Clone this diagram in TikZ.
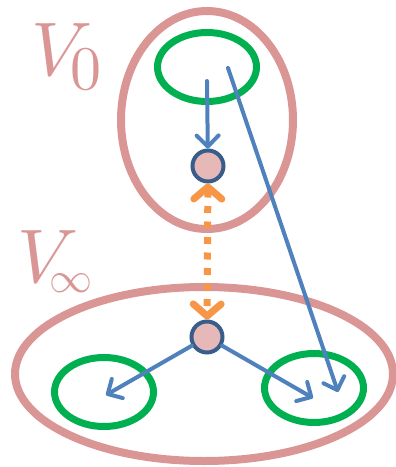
\documentclass[tikz,border=0pt]{standalone}
\usepackage{graphicx}
\usetikzlibrary{arrows.meta,shapes.geometric}
\definecolor{setpink}{HTML}{D99694}
\definecolor{setgreen}{HTML}{00B050}
\definecolor{arrblue}{HTML}{4F81BD}
\definecolor{arrorange}{HTML}{F79646}
\definecolor{nodefill}{HTML}{E6B9B8}
\definecolor{nodeline}{HTML}{385D8A}
\tikzset{
  bigset/.style={draw=setpink, line width=8pt, ellipse, inner sep=0pt},
  smallset/.style={draw=setgreen, line width=7pt, ellipse, inner sep=0pt, minimum width=99pt, minimum height=69pt},
  vertex/.style={circle, draw=nodeline, fill=nodefill, line width=4pt, minimum size=31pt, inner sep=0pt},
  bluearrow/.style={draw=arrblue, line width=4pt, line cap=round, -{Straight Barb[length=11pt,width=22pt,round]}},
  orangearrow/.style={draw=arrorange, line width=7pt, dash pattern=on 7pt off 8.5pt,
    {Straight Barb[length=12pt,width=28pt,round]}-{Straight Barb[length=12pt,width=28pt,round]}},
  setlabel/.style={text=setpink, inner sep=0pt, anchor=base west}
}
\begin{document}
\begin{tikzpicture}[x=1pt,y=-1pt]
\useasboundingbox (0,0) rectangle (396,467);
% big sets
\node[bigset, minimum width=172pt, minimum height=218pt] (V0) at (207,120) {};
\node[bigset, minimum width=378pt, minimum height=174pt] (Vinf) at (204,374) {};
% small sets
\node[smallset] (A) at (207,67) {};
\node[smallset] (B) at (104,392) {};
\node[smallset] (C) at (314,388) {};
% vertices
\node[vertex] (u) at (208,166) {};
\node[vertex] (w) at (207,337) {};
% labels
\node[setlabel] (L0) at (31,75) {\scalebox{7.6}{$V$}\kern-22pt\raisebox{-14pt}{\scalebox{6.2}{0}}};
\node[setlabel] (Linf) at (17,282) {\scalebox{7.6}{$V$}\kern-29pt\raisebox{-10pt}{\scalebox{4.3}{$\infty$}}};
% connectors
\coordinate (a1) at (207,81);
\coordinate (a2) at (228,68);
\coordinate (t2) at (338,392);
\coordinate (tb) at (106,395);
\coordinate (tc) at (313,398);
\draw[bluearrow] (a1) -- (u);
\draw[bluearrow] (a2) -- (t2);
\draw[bluearrow] (w) -- (tb);
\draw[bluearrow] (w) -- (tc);
\draw[orangearrow] (u) -- (w);
\end{tikzpicture}
\end{document}
